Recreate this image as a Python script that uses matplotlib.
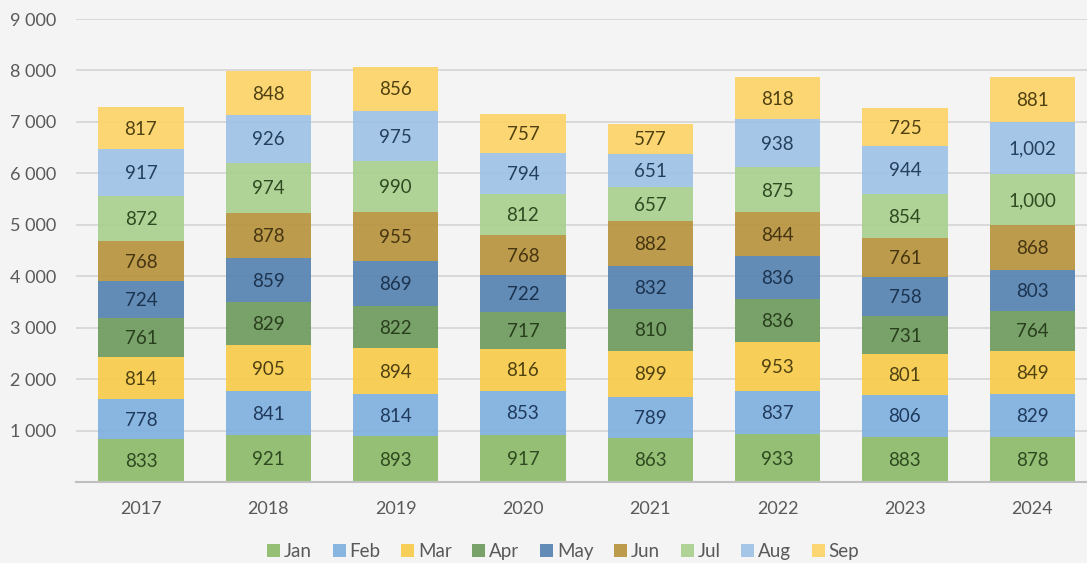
import matplotlib
matplotlib.use("Agg")
import matplotlib.pyplot as plt
import numpy as np

years = ["2017", "2018", "2019", "2020", "2021", "2022", "2023", "2024"]
months = ["Jan", "Feb", "Mar", "Apr", "May", "Jun", "Jul", "Aug", "Sep"]
jan = [833, 921, 893, 917, 863, 933, 883, 878]
feb = [778, 841, 814, 853, 789, 837, 806, 829]
mar = [814, 905, 894, 816, 899, 953, 801, 849]
apr = [761, 829, 822, 717, 810, 836, 731, 764]
may = [724, 859, 869, 722, 832, 836, 758, 803]
jun = [768, 878, 955, 768, 882, 844, 761, 868]
jul = [872, 974, 990, 812, 657, 875, 854, 1000]
aug = [917, 926, 975, 794, 651, 938, 944, 1002]
sep = [817, 848, 856, 757, 577, 818, 725, 881]
series = [jan, feb, mar, apr, may, jun, jul, aug, sep]

colors = ["#8dbb6a", "#80b1e0", "#f8cb4b", "#6f9a5e", "#5683b0", "#b8943f",
          "#a9d18e", "#9fc2e6", "#fdd467"]
label_colors = ["#2f4a20", "#1f3a5c", "#4f4110", "#283f1c", "#1c3350", "#463510",
                "#2f4a20", "#24405e", "#4f4110"]

plt.rcParams['font.family'] = ['Lato', 'DejaVu Sans']
bg = "#f4f4f4"
fig = plt.figure(figsize=(10.87, 5.63), dpi=100, facecolor=bg)
ax = fig.add_axes([76/1087, 1-482/563, 1-76/1087, (482-19)/563], facecolor=bg)

x = np.arange(len(years))
bottom = np.zeros(len(years))
for vals, c, lc, m in zip(series, colors, label_colors, months):
    v = np.array(vals, dtype=float)
    ax.bar(x, v, width=0.67, bottom=bottom, color=c, alpha=0.92, label=m,
           edgecolor="none", zorder=2)
    for xi, b, val in zip(x, bottom, v):
        ax.text(xi, b + val/2 - 20, f"{int(val):,}", ha="center", va="center",
                fontsize=13.5, color=lc, zorder=3)
    bottom += v

ax.set_xlim(-0.51, 7.43)
ax.set_ylim(0, 9000)
ax.set_yticks(np.arange(0, 10000, 1000))
ax.set_yticklabels(["" if t == 0 else f"{t:,}".replace(",", " ") for t in range(0, 10000, 1000)])
ax.set_xticks(x)
ax.set_xticklabels(years)
ax.tick_params(axis="y", length=0, pad=14, labelsize=13, labelcolor="#595959")
ax.tick_params(axis="x", length=0, pad=14, labelsize=13, labelcolor="#595959")
ax.grid(axis="y", color="#d4d4d4", linewidth=1.2, zorder=1)
ax.set_axisbelow(True)
for s in ["top", "right", "left"]:
    ax.spines[s].set_visible(False)
ax.spines["bottom"].set_color("#bfbfbf")
ax.spines["bottom"].set_linewidth(1.5)
ax.spines["bottom"].set_zorder(4)

fig.legend(loc="center", bbox_to_anchor=(0.518, 0.02), ncol=9, frameon=False,
           fontsize=13.5, handlelength=0.7, handleheight=0.7, handletextpad=0.2,
           columnspacing=1.1, labelcolor="#595959", borderpad=0.1)

fig.savefig("out.png", dpi=100, facecolor=bg)
